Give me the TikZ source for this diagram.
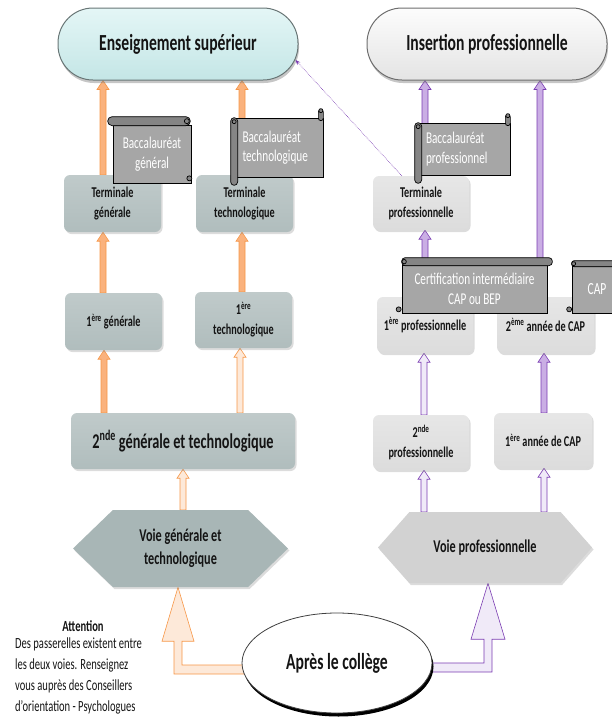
\documentclass[tikz,border=0pt]{standalone}
\usepackage{fontspec}
\setmainfont{Carlito}
\usepackage{graphicx}
\usetikzlibrary{calc,shapes.symbols,shapes.geometric,shadows,arrows.meta}
\pgfdeclarelayer{bg}
\pgfsetlayers{bg,main}
\newcommand{\sq}[1]{\scalebox{0.68}[1]{#1}}
\newcommand{\blkup}[3]{\draw[#1] let \p1=#2, \p2=#3 in (\x1-3pt,\y1) -- (\x1-3pt,\y2-9pt) -- (\x1-6pt,\y2-9pt) -- (\x1,\y2) -- (\x1+6pt,\y2-9pt) -- (\x1+3pt,\y2-9pt) -- (\x1+3pt,\y1) -- cycle;}
\definecolor{genfill}{RGB}{176,189,189}
\definecolor{genhex}{RGB}{168,182,182}
\definecolor{profill}{RGB}{220,220,220}
\definecolor{prohex}{RGB}{210,210,210}
\definecolor{scrollfill}{RGB}{166,166,166}
\definecolor{enstop}{RGB}{228,246,246}
\definecolor{ensbot}{RGB}{196,230,230}
\definecolor{ensline}{RGB}{105,118,118}
\definecolor{instop}{RGB}{252,252,252}
\definecolor{insbot}{RGB}{228,228,228}
\definecolor{insline}{RGB}{110,110,110}
\definecolor{oranfill}{RGB}{250,178,125}
\definecolor{oranline}{RGB}{247,150,70}
\definecolor{oranlight}{RGB}{253,233,217}
\definecolor{purpfill}{RGB}{202,174,228}
\definecolor{purpline}{RGB}{122,60,178}
\definecolor{purplight}{RGB}{240,234,248}
\definecolor{inktext}{RGB}{20,20,20}
\begin{document}
\begin{tikzpicture}[x=1pt,y=-1pt,
  lbl/.style={text=inktext, font=\bfseries\fontsize{15}{20}\selectfont, align=center},
  box/.style={lbl, rectangle, rounded corners=6pt, inner sep=1pt,
    drop shadow={opacity=0.28, shadow xshift=1.5pt, shadow yshift=-2pt}},
  genbox/.style={box, top color=genfill!80!white, bottom color=genfill},
  probox/.style={box, top color=profill!70!white, bottom color=profill},
  pill/.style={rectangle, rounded corners=35pt, line width=1pt, inner sep=0pt,
    text=inktext, font=\bfseries\fontsize{23}{26}\selectfont,
    drop shadow={opacity=0.45, shadow xshift=1pt, shadow yshift=-3pt}},
  hexa/.style={lbl, signal, signal to=east and west, inner sep=0pt,
    font=\bfseries\fontsize{18}{23}\selectfont,
    drop shadow={opacity=0.28, shadow xshift=1.5pt, shadow yshift=-2pt}},
  scrollb/.style={rectangle, draw=black, line width=0.7pt, fill=scrollfill,
    text=white, inner sep=0pt, align=center, font=\fontsize{16.5}{19.5}\selectfont},
  roll/.style={draw=black, line width=0.7pt, fill=scrollfill!80!black},
  oarr/.style={draw=oranline, line width=0.6pt, fill=oranfill},
  oarrl/.style={draw=oranline, line width=0.6pt, fill=oranlight},
  parr/.style={draw=purpline, line width=0.6pt, fill=purpfill},
  parrl/.style={draw=purpline, line width=0.6pt, fill=purplight}]
\useasboundingbox (0,0) rectangle (612,720);

% top destinations
\node[pill, draw=ensline, top color=enstop, bottom color=ensbot,
  minimum width=240pt, minimum height=72pt] (ens) at (178,44) {\sq{Enseignement supérieur}};
\node[pill, draw=insline, top color=instop, bottom color=insbot,
  minimum width=240pt, minimum height=72pt] (ins) at (487,44) {\sq{Insertion professionnelle}};

% general track
\node[genbox, minimum width=97pt, minimum height=57pt] (tg) at (112.5,203.5) {\sq{Terminale}\\\sq{générale}};
\node[genbox, minimum width=97pt, minimum height=57pt] (tt) at (244.5,203.5) {\sq{Terminale}\\\sq{technologique}};
\node[genbox, minimum width=97pt, minimum height=57pt] (pg) at (113.5,321.5) {\sq{1\textsuperscript{ère} générale}};
\node[genbox, minimum width=97pt, minimum height=56pt] (pt) at (243.5,320) {\sq{1\textsuperscript{ère}}\\\sq{technologique}};
\node[genbox, minimum width=224pt, minimum height=56pt, font=\bfseries\fontsize{21}{24}\selectfont] (sgt) at (183,441) {\sq{2\textsuperscript{nde} générale et technologique}};
\node[hexa, fill=genhex, minimum width=215pt, minimum height=77pt, signal pointer angle=88] (vg) at (180.5,548.5) {\sq{Voie générale et}\\\sq{technologique}};

% professional track
\node[probox, minimum width=96pt, minimum height=54pt] (tpro) at (421,203) {\sq{Terminale}\\\sq{professionnelle}};
\node[probox, minimum width=96pt, minimum height=56pt] (ppro) at (425,325) {\sq{1\textsuperscript{ère} professionnelle}};
\node[probox, minimum width=97pt, minimum height=56pt] (cap2) at (545.5,325) {\sq{2\textsuperscript{ème} année de CAP}};
\node[probox, minimum width=96pt, minimum height=55pt] (spro) at (421,442.5) {\sq{2\textsuperscript{nde}}\\\sq{professionnelle}};
\node[probox, minimum width=98pt, minimum height=55pt] (cap1) at (543,440.5) {\sq{1\textsuperscript{ère} année de CAP}};
\node[hexa, fill=prohex, minimum width=214pt, minimum height=71pt, signal pointer angle=97,
  font=\bfseries\fontsize{18}{22}\selectfont] (vp) at (485,547.5) {\sq{Voie professionnelle}};

% start
\node[ellipse, draw=black!75, line width=0.8pt, fill=white, minimum width=190pt, minimum height=100pt,
  drop shadow={fill=black, opacity=1, shadow xshift=1.5pt, shadow yshift=-3.5pt},
  text=inktext, font=\bfseries\fontsize{23}{26}\selectfont] (col) at (337,663) {\raisebox{-4pt}{\sq{Après le collège}}};

% note
\node[text=inktext, font=\bfseries\fontsize{15.5}{18}\selectfont] (att) at (83,626) {\sq{Attention}};
\node[anchor=north west, align=left, inner sep=0pt, text=inktext, font=\fontsize{15.5}{21}\selectfont] (attx) at (15,638)
  {\sq{Des passerelles existent entre}\\\sq{les deux voies. Renseignez}\\\sq{vous auprès des Conseillers}\\\sq{d’orientation - Psychologues}};

% scrolls
\node[scrollb, minimum width=78pt, minimum height=58pt] (bacg) at (152,154) {\sq{Baccalauréat}\\\sq{général}};
\draw[roll, rounded corners=4.5pt] ($(bacg.north west)+(-5,-8)$) rectangle ($(bacg.north east)+(-1,1)$);
\draw[roll] ($(bacg.north east)+(-4.5,-3.5)$) circle (2.5pt);
\draw[roll] ($(bacg.south east)+(-2,-5)$) circle (2.5pt);

\node[scrollb, minimum width=87pt, minimum height=59pt, text width=74pt, align=left] (bact) at (279.5,147.5) {\sq{Baccalauréat}\\\sq{technologique}};
\draw[roll, rounded corners=2.5pt] ($(bact.north east)+(-5,-8)$) rectangle ($(bact.north east)+(0,3)$);
\draw[roll] ($(bact.north east)+(-2.5,-7)$) circle (2pt);
\draw[roll, rounded corners=3.5pt] ($(bact.north west)+(-5,0)$) rectangle ($(bact.south west)+(2,8)$);
\draw[roll] ($(bact.north west)+(-1.5,4)$) circle (2pt);

\node[scrollb, minimum width=90pt, minimum height=52pt, text width=78pt, align=left] (bacp) at (465,149) {\sq{Baccalauréat}\\\sq{professionnel}};
\draw[roll, rounded corners=2.5pt] ($(bacp.north east)+(-5,-8)$) rectangle ($(bacp.north east)+(0,3)$);
\draw[roll] ($(bacp.north east)+(-2.5,-7)$) circle (2pt);
\draw[roll, rounded corners=3.5pt] ($(bacp.north west)+(-5,0)$) rectangle ($(bacp.south west)+(2,8)$);
\draw[roll] ($(bacp.north west)+(-1.5,4)$) circle (2pt);

\node[scrollb, minimum width=145pt, minimum height=48pt] (cert) at (474.5,289) {\sq{Certification intermédiaire}\\\sq{CAP ou BEP}};
\draw[roll, rounded corners=3.5pt] ($(cert.north west)+(0,-7)$) rectangle ($(cert.north east)+(5,1)$);
\draw[roll] ($(cert.north west)+(2.5,-3)$) circle (2.2pt);
\draw[roll] ($(cert.south west)+(-3,-4)$) circle (2.5pt);

\node[scrollb, minimum width=50pt, minimum height=47pt, font=\fontsize{17}{20}\selectfont] (cap) at (597,289.5) {\sq{CAP}};
\draw[roll, rounded corners=2.5pt] ($(cap.north west)+(0,-5)$) rectangle ($(cap.north east)+(5,1)$);
\draw[roll] ($(cap.north west)+(2,-2)$) circle (2pt);
\draw[roll] ($(cap.south west)+(-2.5,-4)$) circle (2.5pt);

% dotted link
\draw[purpline, densely dotted, line width=0.6pt, -{Stealth[length=5pt,width=4pt]}]
  ($(tpro.north west)+(29,0)$) -- ($(ens.east)+(-3,16)$);

% block arrows (behind)
\begin{pgfonlayer}{bg}
\blkup{oarr}{($(tg.north)+(-9.5,0)$)}{(ens.south)}
\blkup{oarr}{($(tt.north)+(-2.5,0)$)}{(ens.south)}
\blkup{oarr}{($(pg.north)+(-10.5,0)$)}{(tg.south)}
\blkup{oarr}{($(pt.north)+(-1.5,0)$)}{(tt.south)}
\blkup{oarr}{($(sgt.north -| pg.south)+(-9.5,0)$)}{(pg.south)}
\blkup{oarrl}{($(sgt.north -| pt.south)+(-3.5,0)$)}{(pt.south)}
\blkup{oarrl}{($(vg.north)+(2.5,0)$)}{(sgt.south)}
\blkup{parr}{($(tpro.north)+(4,0)$)}{(ins.south)}
\blkup{parr}{($(cap2.north)+(-5.5,0)$)}{(ins.south)}
\blkup{parr}{($(ppro.north -| tpro.south)+(4,0)$)}{(tpro.south)}
\blkup{parrl}{($(spro.north)+(3,0)$)}{(ppro.south)}
\blkup{parr}{($(cap1.north)+(1,0)$)}{(cap2.south)}
\blkup{parrl}{($(vp.north -| spro.south)+(3,0)$)}{(spro.south)}
\blkup{parrl}{($(vp.north -| cap1.south)+(1,0)$)}{(cap1.south)}
\draw[oarrl] let \p1=($(col.center)+(0,6.5)$), \p2=($(vg.south)+(-2.5,0)$) in
  (\x1,\y1+4.5pt) -- (\x2+4pt,\y1+4.5pt) -- (\x2+4pt,\y2-54pt) -- (\x2+16pt,\y2-54pt) -- (\x2,\y2)
  -- (\x2-16pt,\y2-54pt) -- (\x2-4pt,\y2-54pt) -- (\x2-4pt,\y1-4.5pt) -- (\x1,\y1-4.5pt) -- cycle;
\draw[parrl] let \p1=($(col.center)+(0,4.5)$), \p2=($(vp.south)+(3,0)$) in
  (\x1,\y1+4.5pt) -- (\x2-4pt,\y1+4.5pt) -- (\x2-4pt,\y2-56pt) -- (\x2-17pt,\y2-56pt) -- (\x2,\y2)
  -- (\x2+17pt,\y2-56pt) -- (\x2+4pt,\y2-56pt) -- (\x2+4pt,\y1-4.5pt) -- (\x1,\y1-4.5pt) -- cycle;
\end{pgfonlayer}
\end{tikzpicture}
\end{document}
